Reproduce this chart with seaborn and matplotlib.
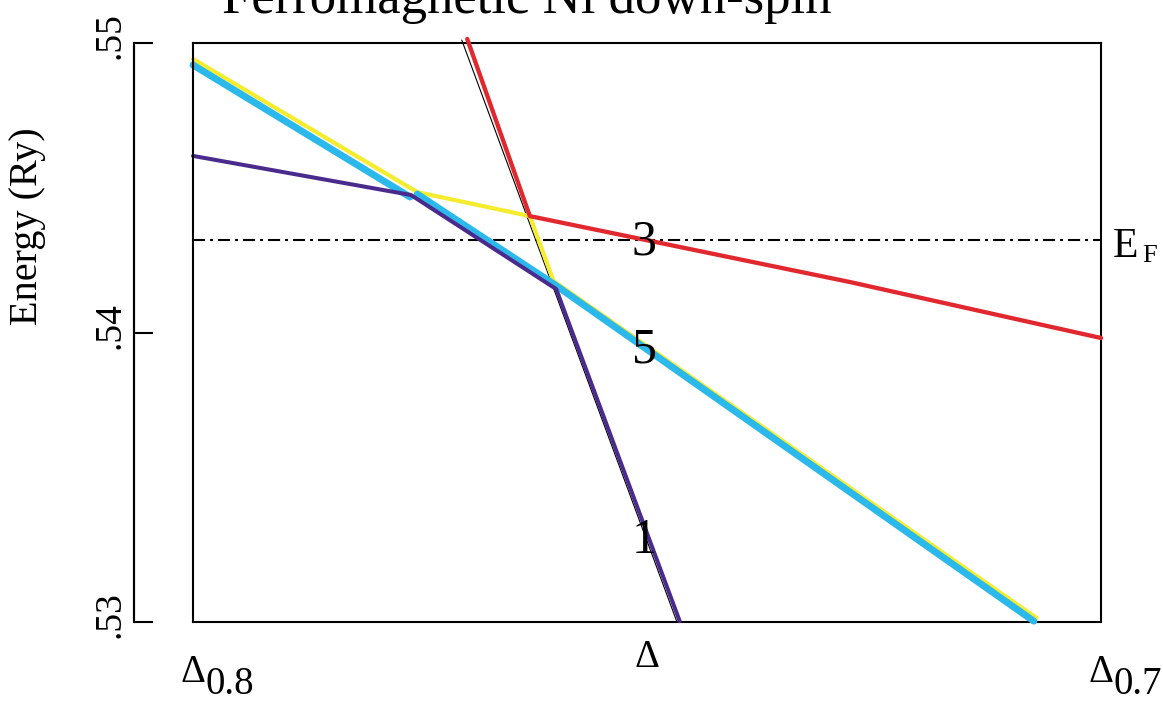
import matplotlib
matplotlib.use("Agg")
import matplotlib.pyplot as plt
import matplotlib.transforms as mtransforms
from matplotlib.lines import Line2D
import seaborn as sns

# ---------------- data (x: k-point along Delta, y: energy in Ry) ----------------
cyan_seg1_x = [0.8000, 0.7761]
cyan_seg1_y = [0.54924, 0.54468]
cyan_seg2_x = [0.7753, 0.7601, 0.7074]
cyan_seg2_y = [0.54478, 0.54164, 0.53003]

yellow_x = [0.8000, 0.7753, 0.7629, 0.7603, 0.7071]
yellow_y = [0.54945, 0.54485, 0.54402, 0.54178, 0.53014]

purple_x = [0.8000, 0.7760, 0.7600, 0.7464]
purple_y = [0.54610, 0.54475, 0.54150, 0.53003]

red_x = [0.7698, 0.7629, 0.7276, 0.7000]
red_y = [0.55014, 0.54402, 0.54174, 0.53981]

thin_x = [0.7704, 0.7467]
thin_y = [0.55010, 0.53000]

fermi_energy = 0.5432

y_tick_values = [0.53, 0.54, 0.55]
y_tick_labels = [".53", ".54", ".55"]
x_tick_values = [0.80, 0.75, 0.70]
x_tick_labels = ["\u0394", "\u0394", "\u0394"]
x_tick_subs = ["0.8", "", "0.7"]

band_label_text = ["3", "5", "1"]
band_label_x = [0.7503, 0.7503, 0.7503]
band_label_y = [0.54268, 0.53898, 0.53238]

# ---------------- style ----------------
sns.set_theme(style="white", rc={
    "axes.edgecolor": "black", "xtick.color": "black", "ytick.color": "black",
    "text.color": "black", "axes.labelcolor": "black",
})
plt.rcParams["font.family"] = ["Liberation Serif", "DejaVu Serif"]

W, H = 1163, 701
fig = plt.figure(figsize=(W / 100, H / 100), dpi=100)
L, R, T, B = 193, 1101, 43, 622
ax = fig.add_axes([L / W, 1 - B / H, (R - L) / W, (B - T) / H])
ax.set_xlim(0.8, 0.7)
ax.set_ylim(0.53, 0.55)

# Fermi level
ax.axhline(fermi_energy, color="black", lw=1.5, dashes=(5.8, 2.4, 1.4, 2.4), zorder=1)

common = dict(ax=ax, sort=False, estimator=None, solid_capstyle="round", clip_on=False)
sns.lineplot(x=thin_x, y=thin_y, color="black", linewidth=0.8, zorder=2, **common)
sns.lineplot(x=yellow_x, y=yellow_y, color="#f6ec2e", linewidth=3.0, zorder=3, **common)
sns.lineplot(x=cyan_seg1_x, y=cyan_seg1_y, color="#2bb9ec", linewidth=5.0, zorder=4, **common)
sns.lineplot(x=cyan_seg2_x, y=cyan_seg2_y, color="#2bb9ec", linewidth=5.0, zorder=4, **common)
sns.lineplot(x=purple_x, y=purple_y, color="#4a2a8c", linewidth=2.9, zorder=5, **common)
sns.lineplot(x=red_x, y=red_y, color="#e1282f", linewidth=3.1, zorder=6, **common)

# box + offset left axis
for s in ["top", "right", "bottom"]:
    ax.spines[s].set_linewidth(1.5)
    ax.spines[s].set_color("black")
ax.spines["left"].set_visible(True)
ax.spines["left"].set_position(("outward", 59 * 0.72))
ax.spines["left"].set_linewidth(1.5)
ax.spines["left"].set_color("black")
ax.plot([0, 0], [0, 1], transform=ax.transAxes, color="black", lw=1.5,
        clip_on=False, solid_capstyle="projecting", zorder=7)
# explicit offset axis line (figure coordinates)
fig.add_artist(Line2D([134 / W, 134 / W], [1 - B / H, 1 - T / H],
                      transform=fig.transFigure, color="black", lw=1.5,
                      solid_capstyle="projecting", zorder=10))

# y ticks
ax.set_yticks(y_tick_values)
ax.set_yticklabels(y_tick_labels, rotation=90, va="center", fontsize=27)
ax.tick_params(axis="y", direction="in", length=19 * 0.72, width=1.5, pad=5, left=True)
shift_up = mtransforms.ScaledTranslation(0, 7 / 100, fig.dpi_scale_trans)
for lab in ax.get_yticklabels():
    lab.set_transform(lab.get_transform() + shift_up)

# x ticks
ax.set_xticks(x_tick_values)
ax.set_xticklabels(x_tick_labels, fontsize=28, va="baseline")
ax.tick_params(axis="x", length=0, pad=60 * 0.72, bottom=True)
xl = ax.get_xticklabels()
xl[1].set_transform(xl[1].get_transform() +
                    mtransforms.ScaledTranslation(0, 15 / 100, fig.dpi_scale_trans))
xtrans = mtransforms.blended_transform_factory(ax.transData, ax.transAxes)
for xv, sub in zip(x_tick_values, x_tick_subs):
    if sub:
        ax.text(xv, 0, sub, fontsize=28, ha="left", va="baseline",
                transform=xtrans + mtransforms.ScaledTranslation(13 / 100, -72 / 100, fig.dpi_scale_trans),
                clip_on=False)

# band labels
for t, bx, by in zip(band_label_text, band_label_x, band_label_y):
    ax.text(bx, by, t, fontsize=36, ha="center", va="baseline", zorder=8)

# E_F label
etrans = mtransforms.blended_transform_factory(ax.transAxes, ax.transData)
ax.text(1 + 12 / (R - L), 0.54261, "E", fontsize=30, ha="left", va="baseline",
        transform=etrans, clip_on=False)
ax.text(1 + 41 / (R - L), 0.54244, "F", fontsize=19, ha="left", va="baseline",
        transform=etrans, clip_on=False)

# y label
ax.set_ylabel("Energy (Ry)", fontsize=29)
ax.yaxis.set_label_coords(37 / W, 1 - 226 / H, transform=fig.transFigure)
ax.yaxis.label.set_rotation_mode("anchor")
ax.yaxis.label.set_va("baseline")
ax.yaxis.label.set_ha("center")

# title (partially cut off at the top, as in the reference)
fig.text(527 / W, 1 - 13 / H, "Ferromagnetic Ni down-spin", fontsize=38,
         ha="center", va="baseline")

fig.savefig("out.png", dpi=100)
